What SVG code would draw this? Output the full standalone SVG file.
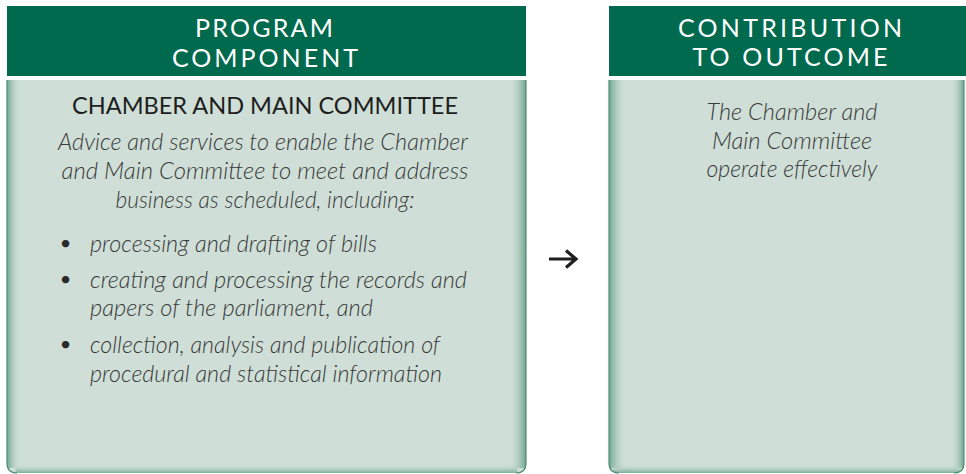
<svg xmlns="http://www.w3.org/2000/svg" width="966" height="474" viewBox="0 0 966 474">
<style>
.hdr{fill:#006a4e}
.hdrt{font-family:"Lato","Open Sans",sans-serif;font-size:25px;fill:#ffffff;text-anchor:middle}
.body{fill:#cfdfd7}
.edge{fill:none;stroke:#4f8f76;stroke-width:1.2}
.title{font-family:"Lato","Open Sans",sans-serif;font-size:23px;fill:#1e1e1e;text-anchor:middle}
.it{font-family:"Lato","Open Sans",sans-serif;font-style:italic;font-weight:300;font-size:23px;fill:#3a3a3a}
.c{text-anchor:middle}
.bul{font-family:"Lato",sans-serif;font-size:20px;fill:#2a2a2a;text-anchor:middle}
</style>
<defs>
<linearGradient id="lg" x1="0" y1="0" x2="1" y2="0">
<stop offset="0" stop-color="#6fa58e" stop-opacity="1"/>
<stop offset="1" stop-color="#cfdfd7" stop-opacity="0"/>
</linearGradient>
<linearGradient id="rg" x1="1" y1="0" x2="0" y2="0">
<stop offset="0" stop-color="#6fa58e" stop-opacity="1"/>
<stop offset="1" stop-color="#cfdfd7" stop-opacity="0"/>
</linearGradient>
<linearGradient id="bg" x1="0" y1="1" x2="0" y2="0">
<stop offset="0" stop-color="#7aad97" stop-opacity="1"/>
<stop offset="1" stop-color="#cfdfd7" stop-opacity="0"/>
</linearGradient>
</defs>
<g id="program-component">
<rect class="hdr" x="7" y="6" width="519" height="70"/>
<text class="hdrt" x="264" y="37" textLength="138" lengthAdjust="spacing">PROGRAM</text>
<text class="hdrt" x="265" y="67" textLength="186" lengthAdjust="spacing">COMPONENT</text>
<path class="body" d="M7,80 H526 V463 Q526,473 516,473 H17 Q7,473 7,463 Z"/>
<rect x="7" y="80" width="14" height="388" fill="url(#lg)"/>
<rect x="508" y="80" width="18" height="388" fill="url(#rg)"/>
<path d="M15,464 H518 Q518,473 516,473 H17 Q15,473 15,464 Z" fill="url(#bg)"/>
<path class="edge" d="M7,80 V463 Q7,473 17,473 M526,80 V463 Q526,473 516,473"/>
<text class="title" x="265" y="114" textLength="386" lengthAdjust="spacingAndGlyphs">CHAMBER AND MAIN COMMITTEE</text>
<text class="it c" x="263" y="150" textLength="410" lengthAdjust="spacingAndGlyphs">Advice and services to enable the Chamber</text>
<text class="it c" x="265" y="179" textLength="407" lengthAdjust="spacingAndGlyphs">and Main Committee to meet and address</text>
<text class="it c" x="265" y="208" textLength="299" lengthAdjust="spacingAndGlyphs">business as scheduled, including:</text>
<text class="bul" x="65.5" y="250">•</text>
<text class="it" x="90" y="252" textLength="287" lengthAdjust="spacingAndGlyphs">processing and drafting of bills</text>
<text class="bul" x="65.5" y="286">•</text>
<text class="it" x="90" y="288" textLength="377" lengthAdjust="spacingAndGlyphs">creating and processing the records and</text>
<text class="it" x="90" y="316" textLength="283" lengthAdjust="spacingAndGlyphs">papers of the parliament, and</text>
<text class="bul" x="65.5" y="351">•</text>
<text class="it" x="90" y="353" textLength="350" lengthAdjust="spacingAndGlyphs">collection, analysis and publication of</text>
<text class="it" x="90" y="382" textLength="352" lengthAdjust="spacingAndGlyphs">procedural and statistical information</text>
</g>
<g id="connectors">
<path d="M549,259 H575 M566,250.5 L576,259 L566,267.5" fill="none" stroke="#1e1e1e" stroke-width="3.2" stroke-linejoin="miter"/>
</g>
<g id="contribution-to-outcome">
<rect class="hdr" x="609" y="6" width="357" height="70"/>
<text class="hdrt" x="790" y="37" textLength="224" lengthAdjust="spacing">CONTRIBUTION</text>
<text class="hdrt" x="790" y="66" textLength="195" lengthAdjust="spacing">TO OUTCOME</text>
<path class="body" d="M609,80 H964 V463 Q964,473 954,473 H619 Q609,473 609,463 Z"/>
<rect x="609" y="80" width="18" height="388" fill="url(#lg)"/>
<rect x="950" y="80" width="14" height="388" fill="url(#rg)"/>
<path d="M611,464 H962 Q962,473 954,473 H619 Q611,473 611,464 Z" fill="url(#bg)"/>
<path class="edge" d="M609,80 V463 Q609,473 619,473 M964,80 V463 Q964,473 954,473"/>
<text class="it c" x="792" y="120" textLength="171" lengthAdjust="spacingAndGlyphs">The Chamber and</text>
<text class="it c" x="792" y="149" textLength="160" lengthAdjust="spacingAndGlyphs">Main Committee</text>
<text class="it c" x="792" y="177" textLength="171" lengthAdjust="spacingAndGlyphs">operate effectively</text>
</g>
</svg>
